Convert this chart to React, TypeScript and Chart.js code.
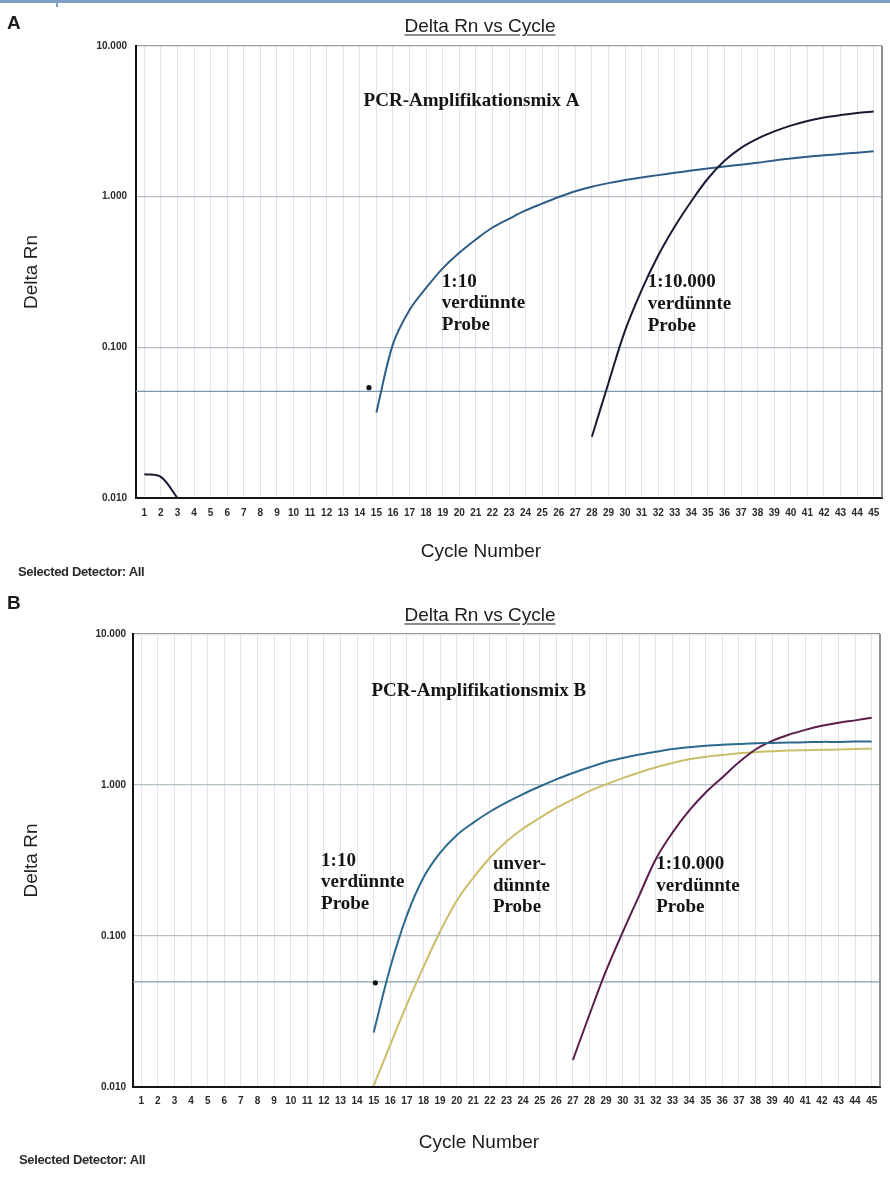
import React, { useEffect, useRef } from 'react';
import { Chart, registerables } from 'chart.js';

Chart.register(...registerables);

// ---------- data ----------
const CYCLES = [1, 2, 3, 4, 5, 6, 7, 8, 9, 10, 11, 12, 13, 14, 15, 16, 17, 18, 19, 20, 21, 22, 23, 24, 25, 26, 27, 28, 29, 30, 31, 32, 33, 34, 35, 36, 37, 38, 39, 40, 41, 42, 43, 44, 45];
const Y_TICKS = [0.01, 0.1, 1, 10];

// Panel A (PCR-Amplifikationsmix A)
const A_DIL_10 = [null, null, null, null, null, null, null, null, null, null, null, null, null, null,
  0.037, 0.105, 0.177, 0.248, 0.334, 0.424, 0.52, 0.624, 0.713, 0.81, 0.9, 0.995, 1.087, 1.164, 1.23, 1.29,
  1.34, 1.39, 1.44, 1.49, 1.54, 1.585, 1.63, 1.68, 1.74, 1.79, 1.84, 1.88, 1.92, 1.96, 2.0];
const A_DIL_10000 = [0.0144, 0.0138, 0.01, null, null, null, null, null, null, null, null, null, null, null,
  null, null, null, null, null, null, null, null, null, null, null, null, null,
  0.0255, 0.058, 0.129, 0.24, 0.407, 0.634, 0.933, 1.32, 1.73, 2.11, 2.43, 2.71, 2.96, 3.18, 3.35, 3.48, 3.59, 3.67];
const A_THRESHOLD = 0.051;
const A_MARKER_CYCLE = 14.55;
const A_MARKER_VALUE = 0.054;

// Panel B (PCR-Amplifikationsmix B)
const B_DIL_10 = [null, null, null, null, null, null, null, null, null, null, null, null, null, null,
  0.023, 0.062, 0.137, 0.244, 0.355, 0.465, 0.563, 0.665, 0.767, 0.871, 0.977, 1.09, 1.2, 1.31, 1.42, 1.51,
  1.59, 1.66, 1.73, 1.78, 1.82, 1.85, 1.87, 1.89, 1.9, 1.91, 1.92, 1.93, 1.93, 1.94, 1.94];
const B_UNDILUTED = [null, null, null, null, null, null, null, null, null, null, null, null, null, null,
  0.0102, 0.0191, 0.0352, 0.0624, 0.107, 0.171, 0.243, 0.33, 0.422, 0.515, 0.605, 0.705, 0.803, 0.912, 1.01, 1.11,
  1.21, 1.31, 1.4, 1.48, 1.54, 1.58, 1.62, 1.65, 1.67, 1.69, 1.7, 1.71, 1.72, 1.73, 1.74];
const B_DIL_10000 = [null, null, null, null, null, null, null, null, null, null, null, null, null, null,
  null, null, null, null, null, null, null, null, null, null, null, null,
  0.0151, 0.0302, 0.0589, 0.106, 0.186, 0.324, 0.484, 0.676, 0.891, 1.122, 1.413, 1.718, 1.959, 2.153,
  2.317, 2.466, 2.588, 2.679, 2.786];
const B_THRESHOLD = 0.0497;
const B_MARKER_CYCLE = 15.1;
const B_MARKER_VALUE = 0.049;

// ---------- helpers ----------
const toPoints = (vals: (number | null)[]) => CYCLES.map((c, i) => ({ x: c, y: vals[i] }));

const SANS = '"Liberation Sans", Arial, Helvetica, sans-serif';
const SERIF = '"Liberation Serif", "Times New Roman", serif';

type Note = { lines: string[]; x: number; y: number };

const notesPlugin = {
  id: 'notes',
  afterDatasetsDraw(chart: any, _args: any, opts: any) {
    const items: Note[] = (opts && opts.items) || [];
    const ctx = chart.ctx;
    const xs = chart.scales.x;
    const ys = chart.scales.y;
    ctx.save();
    ctx.fillStyle = '#141414';
    ctx.font = `bold 19px ${SERIF}`;
    ctx.textAlign = 'left';
    ctx.textBaseline = 'middle';
    items.forEach((n) => {
      const px = xs.getPixelForValue(n.x);
      const py = ys.getPixelForValue(n.y);
      n.lines.forEach((l, i) => ctx.fillText(l, px, py + i * 21.7));
    });
    ctx.restore();
  },
};

const framePlugin = {
  id: 'frame',
  afterDraw(chart: any) {
    const { ctx, chartArea: a } = chart;
    ctx.save();
    ctx.strokeStyle = '#6e6e6e';
    ctx.lineWidth = 1.5;
    ctx.beginPath();
    ctx.moveTo(a.right, a.top);
    ctx.lineTo(a.right, a.bottom);
    ctx.stroke();
    ctx.restore();
  },
};

type Series = { data: (number | null)[]; color: string };
type Spec = {
  width: number;
  height: number;
  padRight: number;
  padTop: number;
  yWidth: number;
  xHeight: number;
  xTickPad: number;
  yTickPad: number;
  series: Series[];
  threshold: number;
  thresholdColor: string;
  marker: { x: number; y: number };
  notes: Note[];
};

function makeConfig(s: Spec): any {
  const datasets: any[] = s.series.map((se) => ({
    data: toPoints(se.data),
    borderColor: se.color,
    borderWidth: 2,
    pointRadius: 0,
    tension: 0.35,
    spanGaps: false,
    fill: false,
  }));
  datasets.unshift({
    data: [{ x: s.marker.x, y: s.marker.y }],
    showLine: false,
    pointRadius: 2.6,
    pointBackgroundColor: '#111',
    pointBorderWidth: 0,
    borderColor: '#111',
  });
  datasets.push({
    data: [
      { x: 0.5, y: s.threshold },
      { x: 45.5, y: s.threshold },
    ],
    borderColor: s.thresholdColor,
    borderWidth: 1.3,
    pointRadius: 0,
    fill: false,
  });
  return {
    type: 'line',
    data: { datasets },
    plugins: [notesPlugin, framePlugin],
    options: {
      responsive: false,
      animation: false,
      devicePixelRatio: 1,
      layout: { padding: { left: 0, right: s.padRight, top: s.padTop, bottom: 0 } },
      plugins: {
        legend: { display: false },
        tooltip: { enabled: false },
        title: { display: false },
        notes: { items: s.notes },
      },
      scales: {
        x: {
          type: 'linear',
          min: 0.5,
          max: 45.5,
          afterBuildTicks: (sc: any) => {
            sc.ticks = CYCLES.map((v) => ({ value: v }));
          },
          afterFit: (sc: any) => {
            sc.height = s.xHeight;
          },
          ticks: {
            autoSkip: false,
            maxRotation: 0,
            minRotation: 0,
            padding: s.xTickPad,
            color: '#2a2a2a',
            font: { family: SANS, size: 10, weight: 'bold' },
            callback: (v: any) => String(v),
          },
          grid: { color: '#e2e2e8', lineWidth: 1, drawTicks: false },
          border: { color: '#141414', width: 2 },
        },
        y: {
          type: 'logarithmic',
          min: 0.01,
          max: 10,
          afterBuildTicks: (sc: any) => {
            sc.ticks = Y_TICKS.map((v) => ({ value: v }));
          },
          afterFit: (sc: any) => {
            sc.width = s.yWidth;
          },
          ticks: {
            padding: s.yTickPad,
            color: '#2a2a2a',
            font: { family: SANS, size: 10, weight: 'bold' },
            callback: (v: any) => Number(v).toFixed(3),
          },
          grid: {
            color: (ctx: any) => (ctx.tick && ctx.tick.value === 10 ? '#9c9c9c' : '#b3bfc6'),
            lineWidth: 1.2,
            drawTicks: false,
          },
          border: { color: '#141414', width: 2 },
          title: {
            display: true,
            text: 'Delta Rn',
            color: '#1e1e1e',
            font: { family: SANS, size: 19 },
            padding: { top: 20, bottom: 0 },
          },
        },
      },
    },
  };
}

const SPEC_A: Spec = {
  width: 890,
  height: 590,
  padRight: 8,
  padTop: 46,
  yWidth: 136,
  xHeight: 92,
  xTickPad: 9,
  yTickPad: 9,
  series: [
    { data: A_DIL_10000, color: '#1b1a35' },
    { data: A_DIL_10, color: '#2f5d88' },
  ],
  threshold: A_THRESHOLD,
  thresholdColor: '#7f9aa8',
  marker: { x: A_MARKER_CYCLE, y: A_MARKER_VALUE },
  notes: [
    { lines: ['PCR-Amplifikationsmix A'], x: 14.23, y: 4.33 },
    { lines: ['1:10', 'verdünnte', 'Probe'], x: 18.95, y: 0.273 },
    { lines: ['1:10.000', 'verdünnte', 'Probe'], x: 31.37, y: 0.27 },
  ],
};

const SPEC_B: Spec = {
  width: 890,
  height: 592,
  padRight: 10,
  padTop: 44,
  yWidth: 133,
  xHeight: 95,
  xTickPad: 8,
  yTickPad: 7,
  series: [
    { data: B_DIL_10, color: '#2c6a8e' },
    { data: B_DIL_10000, color: '#5a1d4c' },
    { data: B_UNDILUTED, color: '#cbbd6a' },
  ],
  threshold: B_THRESHOLD,
  thresholdColor: '#88a0ad',
  marker: { x: B_MARKER_CYCLE, y: B_MARKER_VALUE },
  notes: [
    { lines: ['PCR-Amplifikationsmix B'], x: 14.86, y: 4.21 },
    { lines: ['1:10', 'verdünnte', 'Probe'], x: 11.83, y: 0.315 },
    { lines: ['unver-', 'dünnte', 'Probe'], x: 22.18, y: 0.3 },
    { lines: ['1:10.000', 'verdünnte', 'Probe'], x: 32.02, y: 0.3 },
  ],
};

function Panel({ spec, top }: { spec: Spec; top: number }) {
  const ref = useRef<HTMLCanvasElement | null>(null);
  useEffect(() => {
    if (!ref.current) return;
    const chart = new Chart(ref.current, makeConfig(spec));
    return () => chart.destroy();
  }, [spec]);
  return (
    <canvas
      ref={ref}
      width={spec.width}
      height={spec.height}
      style={{ position: 'absolute', left: 0, top, width: spec.width, height: spec.height }}
    />
  );
}

function Label({
  x,
  y,
  center,
  style,
  children,
}: {
  x: number;
  y: number;
  center?: boolean;
  style?: React.CSSProperties;
  children: React.ReactNode;
}) {
  return (
    <div
      style={{
        position: 'absolute',
        left: x,
        top: y,
        transform: center ? 'translate(-50%, -50%)' : 'translate(0, -50%)',
        whiteSpace: 'nowrap',
        lineHeight: 1,
        color: '#1c1c1c',
        fontFamily: SANS,
        ...style,
      }}
    >
      {children}
    </div>
  );
}

export default function App() {
  const titleStyle: React.CSSProperties = { fontSize: 19, textDecoration: 'underline', textUnderlineOffset: 3 };
  const axisStyle: React.CSSProperties = { fontSize: 19 };
  const detStyle: React.CSSProperties = { fontSize: 13, fontWeight: 'bold', letterSpacing: -0.35, color: '#2a2a2a' };
  const letterStyle: React.CSSProperties = { fontSize: 19, fontWeight: 'bold' };
  return (
    <div
      style={{
        position: 'absolute',
        left: 0,
        top: 0,
        width: 890,
        height: 1182,
        background: '#ffffff',
        overflow: 'hidden',
      }}
    >
      <div style={{ position: 'absolute', left: 0, top: 0, width: 890, height: 3, background: '#7f9fc4' }} />
      <div style={{ position: 'absolute', left: 56, top: 0, width: 2, height: 7, background: '#7f9fc4' }} />
      <Panel spec={SPEC_A} top={0} />
      <Panel spec={SPEC_B} top={590} />

      <Label x={7} y={22} style={letterStyle}>A</Label>
      <Label x={480} y={25} center style={titleStyle}>Delta Rn vs Cycle</Label>
      <Label x={481} y={550} center style={axisStyle}>Cycle Number</Label>
      <Label x={18} y={571} style={detStyle}>Selected Detector: All</Label>

      <Label x={7} y={602} style={letterStyle}>B</Label>
      <Label x={480} y={614} center style={titleStyle}>Delta Rn vs Cycle</Label>
      <Label x={479} y={1141} center style={axisStyle}>Cycle Number</Label>
      <Label x={19} y={1159} style={detStyle}>Selected Detector: All</Label>
    </div>
  );
}
